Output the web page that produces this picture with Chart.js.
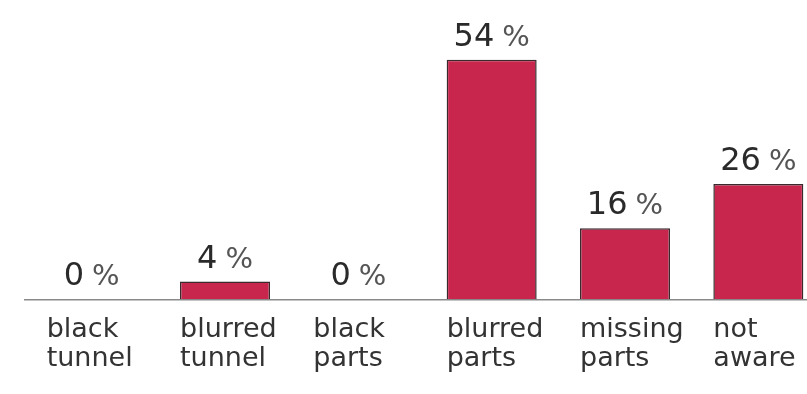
<!DOCTYPE html>
<html>
<head>
<meta charset="utf-8">
<script src="https://cdn.jsdelivr.net/npm/chart.js@4"></script>
<style>
  html, body { margin: 0; padding: 0; background: #fff; overflow: hidden; }
  /* a última barra encosta na borda, então o canvas é um pouco mais largo */
  #wrap { width: 807px; height: 394px; overflow: hidden; }
</style>
</head>
<body>
<div id="wrap"><canvas id="chart" width="830" height="394"></canvas></div>
<script>
// categorias (duas linhas cada)
const categories = [
  ["black", "tunnel"],
  ["blurred", "tunnel"],
  ["black", "parts"],
  ["blurred", "parts"],
  ["missing", "parts"],
  ["not", "aware"]
];
const percentages = [0, 4, 0, 54, 16, 26];

// rótulos em cima das barras: número grande, % menor
const valueLabels = {
  id: "valueLabels",
  afterDatasetsDraw(chart) {
    const ctx = chart.ctx;
    const meta = chart.getDatasetMeta(0);
    ctx.save();
    ctx.textBaseline = "alphabetic";
    ctx.textAlign = "left";
    meta.data.forEach((bar, i) => {
      const num = String(percentages[i]);
      ctx.font = "32px 'DejaVu Sans'";
      const wNum = ctx.measureText(num).width;
      ctx.font = "29px 'DejaVu Sans'";
      const wPct = ctx.measureText("%").width;
      const gap = 8;
      const total = wNum + gap + wPct;
      const x0 = bar.x - total / 2;
      const y = bar.y - 14;
      ctx.fillStyle = "#2a2a2a";
      ctx.font = "32px 'DejaVu Sans'";
      ctx.fillText(num, x0, y);
      ctx.fillStyle = "#555";
      ctx.font = "29px 'DejaVu Sans'";
      ctx.fillText("%", x0 + wNum + gap, y);
    });
    ctx.restore();
  }
};

new Chart(document.getElementById("chart"), {
  type: "bar",
  data: {
    labels: categories,
    datasets: [{
      data: percentages,
      backgroundColor: "#c8264c",
      borderColor: "#3a2a2e",
      borderWidth: 1.5,
      categoryPercentage: 1,
      barPercentage: 0.675
    }]
  },
  options: {
    responsive: false,
    animation: false,
    layout: { padding: { left: 25, right: 5, top: 0, bottom: 4 } },
    plugins: {
      legend: { display: false },
      tooltip: { enabled: false }
    },
    scales: {
      y: {
        display: false,
        min: 0,
        max: 67.5
      },
      x: {
        grid: { display: false, drawTicks: false },
        border: { display: true, color: "#8a8a8a", width: 1.5 },
        ticks: {
          color: "#333",
          font: { family: "'DejaVu Sans'", size: 27, lineHeight: 1.05 },
          align: "start",
          labelOffset: -45,
          padding: 17,
          autoSkip: false,
          maxRotation: 0
        },
        afterFit(scale) {
          scale.paddingLeft = 0;
          scale.paddingRight = 0;
        }
      }
    }
  },
  plugins: [valueLabels]
});
</script>
</body>
</html>
